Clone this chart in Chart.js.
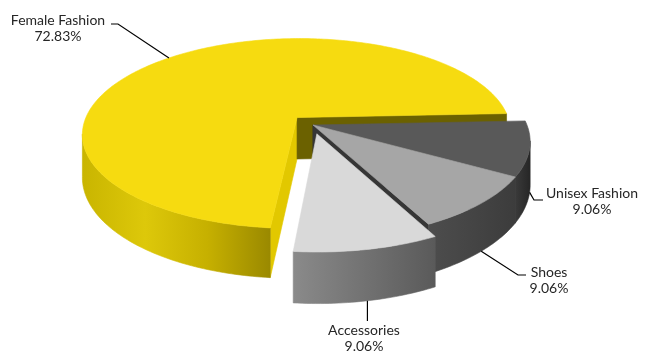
<!DOCTYPE html>
<html><head><meta charset="utf-8">
<script src="https://cdn.jsdelivr.net/npm/chart.js@4.4.1/dist/chart.umd.min.js"></script>
<style>html,body{margin:0;padding:0;background:#fff}#wrap{width:646px;height:354px}</style>
</head><body><div id="wrap"><canvas id="c" width="646" height="354"></canvas></div>
<script>
// ---- data ----
const categories = ['Unisex Fashion', 'Shoes', 'Accessories', 'Female Fashion'];
const shares = [9.06, 9.06, 9.06, 72.83];
const percentLabels = ['9.06%', '9.06%', '9.06%', '72.83%'];

// ---- style ----
const topColors = ['#595959', '#a6a6a6', '#d9d9d9', '#f6db10'];
const wallColors = [
  ['#3a3a3a', '#262626'],
  ['#4d4d4d', '#3c3c3c'],
  ['#8a8a8a', '#5a5a5a'],
  ['#c9b500', '#ddc80a', '#c6b000', '#9a8900']
];
const startFaceColors = ['#333333', '#444444', '#777777', '#e2c800'];
const endFaceColors = ['#2e2e2e', '#363636', '#6a6a6a', '#6b6100'];
const explode = [0, 0, 11, 13];
const view = { F: 214, G: 94.8, k: 0.17, D: 42 };
const drawOrder = [3, 0, 1, 2];
const labelLayout = [
  { anchor: 'wall', path: [[534, 200], [543, 200]], text: [592, 198] },
  { anchor: 'wall', path: [[518, 275], [526, 275]], text: [549, 277] },
  { anchor: 'wall', path: [[null, 321]], text: [364, 335] },
  { anchor: 'rim', path: [[118, 24], [111, 24]], text: [58, 25] }
];
const labelFont = '14px Lato';
const lineGap = 16;

function proj(cx, cy, x, z, h) {
  const w = 1 / (1 - view.k * z);
  return [cx + view.F * x * w, cy + (view.G * z + view.D * h) * w];
}
function area(p) {
  let s = 0;
  for (let i = 0; i < p.length; i++) {
    const a = p[i], b = p[(i + 1) % p.length];
    s += a[0] * b[1] - b[0] * a[1];
  }
  return s;
}
function poly(ctx, pts, fill) {
  ctx.beginPath();
  ctx.moveTo(pts[0][0], pts[0][1]);
  for (let i = 1; i < pts.length; i++) ctx.lineTo(pts[i][0], pts[i][1]);
  ctx.closePath();
  ctx.fillStyle = fill;
  ctx.fill();
  ctx.strokeStyle = fill;
  ctx.lineWidth = 0.6;
  ctx.stroke();
}
function geom(arc) {
  const { x: cx, y: cy, startAngle: a0, endAngle: a1, outerRadius: R } = arc;
  const off = (arc.options && arc.options.offset) || 0;
  const mid = (a0 + a1) / 2;
  const ox = Math.cos(mid) * off / R, oz = Math.sin(mid) * off / R;
  return { cx, cy, a0, a1, ox, oz, mid };
}

const pie3d = {
  id: 'pie3d',
  beforeDatasetsDraw(chart) {
    const ctx = chart.ctx;
    const meta = chart.getDatasetMeta(0);
    const ds = chart.data.datasets[0];
    ctx.save();
    ctx.lineJoin = 'round';
    for (const i of drawOrder) {
      const g = geom(meta.data[i]);
      const N = Math.max(8, Math.ceil((g.a1 - g.a0) / (Math.PI / 180)));
      const top = [], bot = [];
      for (let j = 0; j <= N; j++) {
        const a = g.a0 + (g.a1 - g.a0) * j / N;
        top.push(proj(g.cx, g.cy, g.ox + Math.cos(a), g.oz + Math.sin(a), 0));
        bot.push(proj(g.cx, g.cy, g.ox + Math.cos(a), g.oz + Math.sin(a), 1));
      }
      const apT = proj(g.cx, g.cy, g.ox, g.oz, 0), apB = proj(g.cx, g.cy, g.ox, g.oz, 1);
      const sf = [apT, top[0], bot[0], apB];
      if (area(sf) < 0) poly(ctx, sf, startFaceColors[i]);
      const ef = [top[N], apT, apB, bot[N]];
      if (area(ef) < 0) poly(ctx, ef, endFaceColors[i]);
      let s = -1;
      const runs = [];
      for (let j = 0; j < N; j++) {
        const vis = area([top[j], top[j + 1], bot[j + 1], bot[j]]) < 0;
        if (vis && s < 0) s = j;
        if (!vis && s >= 0) { runs.push([s, j]); s = -1; }
      }
      if (s >= 0) runs.push([s, N]);
      for (const [r0, r1] of runs) {
        const pts = [];
        for (let j = r0; j <= r1; j++) pts.push(top[j]);
        for (let j = r1; j >= r0; j--) pts.push(bot[j]);
        let minX = Infinity, maxX = -Infinity;
        pts.forEach(p => { minX = Math.min(minX, p[0]); maxX = Math.max(maxX, p[0]); });
        const grad = ctx.createLinearGradient(minX, 0, maxX, 0);
        const cols = wallColors[i];
        cols.forEach((c, k) => grad.addColorStop(k / (cols.length - 1), c));
        poly(ctx, pts, grad);
      }
      poly(ctx, [apT, ...top], ds.backgroundColor[i]);
    }
    ctx.restore();
    return false;
  },
  afterDraw(chart) {
    const ctx = chart.ctx;
    const meta = chart.getDatasetMeta(0);
    ctx.save();
    for (let i = 0; i < categories.length; i++) {
      const g = geom(meta.data[i]);
      const L = labelLayout[i];
      const h = L.anchor === 'rim' ? 0 : 1;
      const an = proj(g.cx, g.cy, g.ox + Math.cos(g.mid), g.oz + Math.sin(g.mid), h);
      ctx.beginPath();
      ctx.moveTo(an[0], an[1]);
      L.path.forEach(p => ctx.lineTo(p[0] === null ? an[0] : p[0], p[1]));
      ctx.strokeStyle = '#000';
      ctx.lineWidth = 1.2;
      ctx.stroke();
      ctx.font = labelFont;
      ctx.fillStyle = '#262626';
      ctx.textAlign = 'center';
      ctx.textBaseline = 'alphabetic';
      const tx = L.text[0] === null ? an[0] : L.text[0];
      ctx.fillText(categories[i], tx, L.text[1]);
      ctx.fillText(percentLabels[i], tx, L.text[1] + lineGap);
    }
    ctx.restore();
  }
};

new Chart(document.getElementById('c'), {
  type: 'pie',
  data: {
    labels: categories,
    datasets: [{
      data: shares,
      backgroundColor: topColors,
      borderWidth: 0,
      offset: explode
    }]
  },
  options: {
    responsive: false,
    animation: false,
    rotation: 87.5,
    layout: { padding: { left: 0, right: 20, top: 0, bottom: 104 } },
    plugins: { legend: { display: false }, tooltip: { enabled: false } }
  },
  plugins: [pie3d]
});
</script>
</body></html>
